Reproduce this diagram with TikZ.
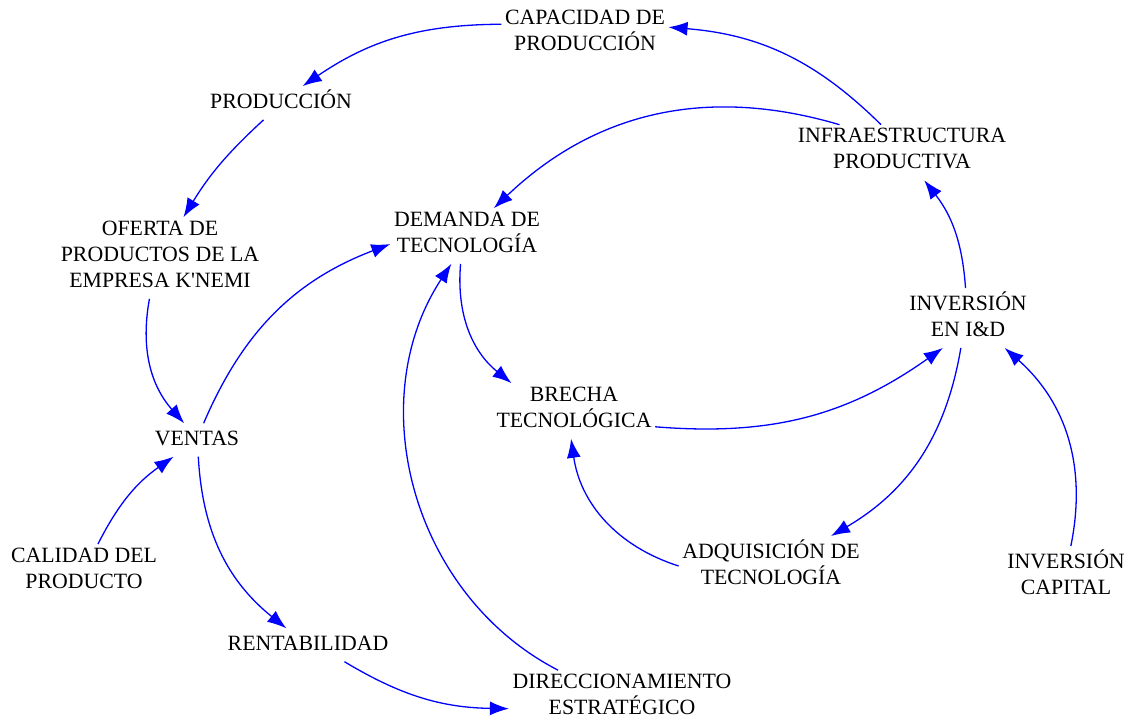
\documentclass[tikz,border=0pt]{standalone}
\usepackage{fontspec}
\setmainfont{Liberation Serif}
\usetikzlibrary{arrows.meta}
\begin{document}
\begin{tikzpicture}[x=1pt,y=-1pt,
  var/.style={align=center,inner sep=3.5pt,font=\fontsize{21.8}{26}\selectfont,
    execute at begin node=\strut, execute at end node=\strut},
  link/.style={draw=blue,line width=1.3pt,-{Latex[length=19pt,width=14pt]}}]
\useasboundingbox (0,0) rectangle (1136,719);
\node[var] (cap)  at (585,34.5) {CAPACIDAD DE\\PRODUCCIÓN};
\node[var] (prod) at (281,103) {PRODUCCIÓN};
\node[var] (ofer) at (160,258) {OFERTA DE\\PRODUCTOS DE LA\\EMPRESA K\textquotesingle NEMI};
\node[var] (vent) at (197,440) {VENTAS};
\node[var] (cal)  at (84,572) {CALIDAD DEL\\PRODUCTO};
\node[var] (rent) at (308,645) {RENTABILIDAD};
\node[var] (dir)  at (622,698) {DIRECCIONAMIENTO\\ESTRATÉGICO};
\node[var] (dem)  at (467,236) {DEMANDA DE\\TECNOLOGÍA};
\node[var] (bre)  at (574,411) {BRECHA\\TECNOLÓGICA};
\node[var] (inf)  at (902,152.5) {INFRAESTRUCTURA\\PRODUCTIVA};
\node[var] (inv)  at (968,318) {INVERSIÓN\\EN I\&D};
\node[var] (adq)  at (771,566) {ADQUISICIÓN DE\\TECNOLOGÍA};
\node[var] (invc) at (1066,576) {INVERSIÓN\\CAPITAL};

\draw[link] (cap.173) to[bend right=17] (prod.38);
\draw[link] (inf.127) to[bend right=20] (cap.5);
\draw[link] (prod) to[bend right=8] (ofer);
\draw[link] (ofer) to[bend right=26] (vent);
\draw[link] (vent) to[bend left=23] (dem.186);
\draw[link] (cal) to[bend left=14] (vent);
\draw[link] (vent) to[bend right=24] (rent);
\draw[link] (rent) to[bend right=15] (dir);
\draw[link] (dir) to[bend left=48] (dem);
\draw[link] (dem.257) to[bend right=28] (bre.156);
\draw[link] (inf.156) to[bend right=30] (dem.46);
\draw[link] (inv) to[bend right=17] (inf);
\draw[link] (bre.349) to[bend right=20] (inv.230);
\draw[link] (inv) to[bend left=25] (adq);
\draw[link] (adq.west) to[bend left=32] (bre.264);
\draw[link] (invc) to[bend right=30] (inv);
\end{tikzpicture}
\end{document}
